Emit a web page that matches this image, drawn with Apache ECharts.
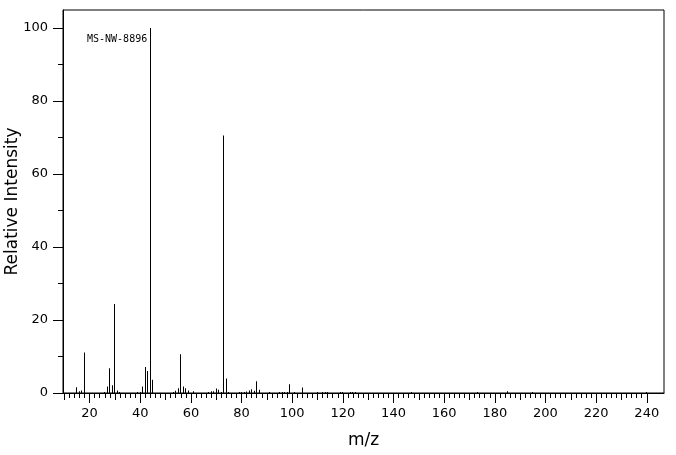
<!DOCTYPE html>
<html>
<head>
<meta charset="utf-8">
<script src="https://cdn.jsdelivr.net/npm/echarts@6/dist/echarts.min.js"></script>
<style>html,body{margin:0;padding:0;background:#fff;}#c{width:676px;height:455px;}</style>
</head>
<body>
<div id="c"></div>
<script>
// m/z values and relative intensities
const mzValues = [15,16,17,18,26,27,28,29,30,31,32,39,40,41,42,43,44,45,53,54,55,56,57,58,59,61,67,68,69,70,71,72,73,74,75,79,80,81,82,83,84,85,86,87,91,95,96,97,98,99,101,104,110,112,113,114,119,120,123,124,125,147,173,185,195,240];
const intensities = [1.6,0.5,0.7,11.1,0.3,1.8,6.8,2.1,24.4,0.7,0.3,0.3,0.3,1.8,7.1,6.0,100,3.6,0.3,0.6,1.3,10.6,1.8,1.3,0.7,0.5,0.3,0.5,0.5,1.2,0.9,0.3,70.5,4.0,0.3,0.3,0.3,0.3,0.4,0.7,1.0,0.6,3.2,0.9,0.3,0.3,0.3,0.3,0.3,2.4,0.3,1.5,0.3,0.3,0.3,0.3,0.3,0.3,0.3,0.3,0.3,0.3,0.3,0.45,0.3,0.3];

const xMajorTicks = [20,40,60,80,100,120,140,160,180,200,220,240];
const xMediumTicks = [10,30,50,70,90,110,130,150,170,190,210,230];
const xMinorTicks = [];
for (let v = 10; v <= 240; v += 2) xMinorTicks.push(v);
const yMajorTicks = [0,20,40,60,80,100];
const yMinorTicks = [10,30,50,70,90];

const xTitle = 'm/z';
const yTitle = 'Relative Intensity';
const spectrumId = 'MS-NW-8896';

const X_MIN = 9.5, X_MAX = 246.8, Y_MIN = 0, Y_MAX = 104.9;
const font = 'DejaVu Sans';

const chart = echarts.init(document.getElementById('c'), null, {renderer: 'canvas'});

function xAxisDef(ticks, len, showLine, showLabel, extra) {
  return Object.assign({
    type: 'value', gridIndex: 0, position: 'bottom', min: X_MIN, max: X_MAX,
    axisLine: {show: showLine, onZero: false, lineStyle: {color: '#000', width: 1}},
    axisTick: {show: true, inside: false, length: len, customValues: ticks, lineStyle: {color: '#000', width: 1}},
    axisLabel: {show: showLabel, customValues: ticks, color: '#000', fontFamily: font, fontSize: 13, margin: 14},
    splitLine: {show: false}
  }, extra || {});
}
function yAxisDef(ticks, len, showLine, showLabel, extra) {
  return Object.assign({
    type: 'value', gridIndex: 0, position: 'left', min: Y_MIN, max: Y_MAX,
    axisLine: {show: showLine, onZero: false, lineStyle: {color: '#000', width: 1}},
    axisTick: {show: true, inside: false, length: len, customValues: ticks, lineStyle: {color: '#000', width: 1}},
    axisLabel: {show: showLabel, customValues: ticks, color: '#000', fontFamily: font, fontSize: 13, margin: 15},
    splitLine: {show: false}
  }, extra || {});
}

const data = mzValues.map((m, i) => [m, intensities[i]]);

chart.setOption({
  animation: false,
  backgroundColor: '#fff',
  grid: {left: 63, right: 12, top: 10, bottom: 62, containLabel: false, outerBoundsMode: 'none', show: true, borderColor: '#000', borderWidth: 1, backgroundColor: 'transparent'},
  xAxis: [
    xAxisDef(xMajorTicks, 10, true, true, {name: xTitle, nameLocation: 'middle', nameGap: 39, nameMoveOverlap: false, nameTextStyle: {color: '#000', fontFamily: font, fontSize: 17}}),
    xAxisDef(xMediumTicks, 7, false, false),
    xAxisDef(xMinorTicks, 5, false, false)
  ],
  yAxis: [
    yAxisDef(yMajorTicks, 10, true, true, {name: yTitle, nameLocation: 'middle', nameGap: 42, nameMoveOverlap: false, nameTextStyle: {color: '#000', fontFamily: font, fontSize: 17}}),
    yAxisDef(yMinorTicks, 5, false, false)
  ],
  graphic: [{
    type: 'text', left: 87, top: 34,
    style: {text: spectrumId, fill: '#000', font: '10px "DejaVu Sans Mono"'}
  }],
  series: [{
    type: 'custom',
    xAxisIndex: 0, yAxisIndex: 0,
    data: data,
    encode: {x: 0, y: 1},
    renderItem: function (params, api) {
      const top = api.coord([api.value(0), api.value(1)]);
      const base = api.coord([api.value(0), 0]);
      const x = Math.round(top[0] - 0.5);
      return {
        type: 'rect',
        shape: {x: x, y: top[1], width: 1, height: base[1] - top[1]},
        style: {fill: '#000'}
      };
    }
  }]
});
</script>
</body>
</html>
